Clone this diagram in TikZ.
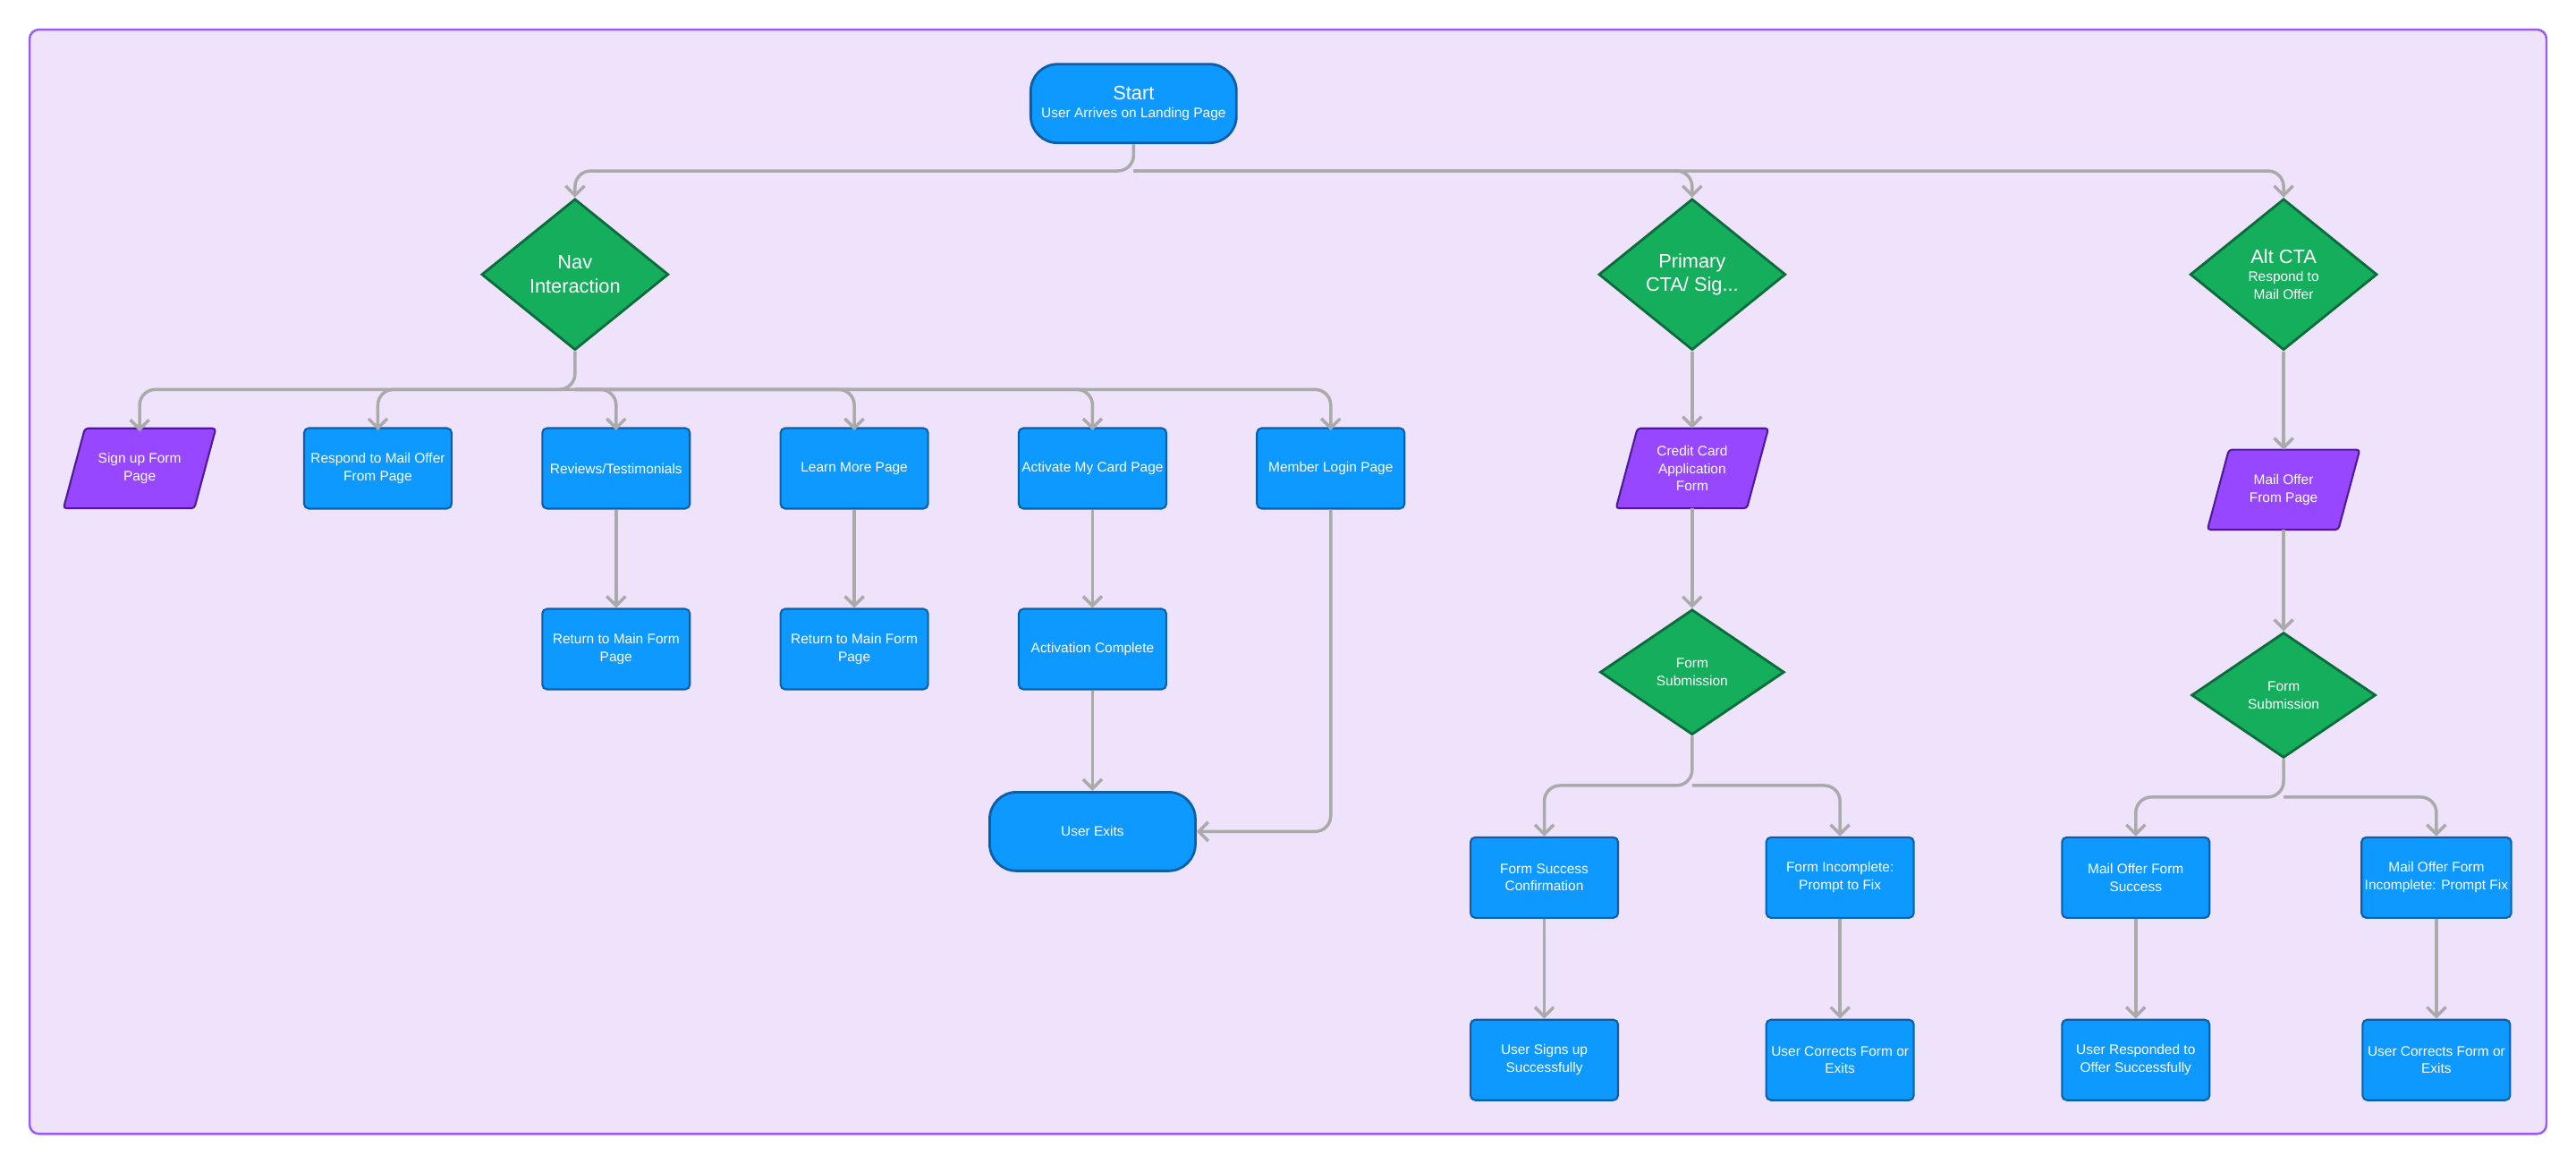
\documentclass[tikz,border=0pt]{standalone}
\usepackage{fontspec}
\setmainfont{Liberation Sans}
\usetikzlibrary{shapes.geometric,arrows.meta}
\definecolor{bgfill}{HTML}{EFE3FB}
\definecolor{bgline}{HTML}{9B59F6}
\definecolor{boxfill}{HTML}{0D99FF}
\definecolor{boxline}{HTML}{0A5FA8}
\definecolor{decfill}{HTML}{14AE5C}
\definecolor{decline}{HTML}{0B6B3A}
\definecolor{iofill}{HTML}{9747FF}
\definecolor{ioline}{HTML}{4E1A96}
\definecolor{arrline}{HTML}{AAAAAA}
\tikzset{
  txt/.style={text=white, align=center, font=\fontsize{4.4}{5.6}\selectfont},
  stepbox/.style={txt, draw=boxline, fill=boxfill, line width=0.6pt, rounded corners=1.5pt,
    minimum width=1.65cm, minimum height=0.9cm, inner sep=1pt},
  termbox/.style={txt, draw=boxline, fill=boxfill, line width=0.8pt, rounded corners=0.3cm,
    minimum width=2.3cm, minimum height=0.88cm},
  decide/.style={txt, diamond, draw=decline, fill=decfill, line width=0.8pt,
    minimum width=2.09cm, minimum height=1.69cm, inner sep=0pt},
  decsmall/.style={decide, minimum width=2.06cm, minimum height=1.4cm},
  iobox/.style={txt, minimum width=1.45cm, minimum height=0.88cm, inner sep=0pt},
  arr/.style={draw=arrline, line width=1pt, rounded corners=5pt, -{Straight Barb[length=3pt,width=6pt]}},
  big/.style={font=\fontsize{6.2}{7.6}\selectfont}
}
% parallelogram around a node
\newcommand{\ioshape}[1]{%
  \filldraw[fill=iofill, draw=ioline, line width=0.6pt, rounded corners=1pt]
    ([xshift=0.12cm]#1.north west) -- ([xshift=0.12cm]#1.north east)
    -- ([xshift=-0.12cm]#1.south east) -- ([xshift=-0.12cm]#1.south west) -- cycle;}
\begin{document}
\begin{tikzpicture}[x=0.018367cm, y=-0.018367cm]
\useasboundingbox (0,0) rectangle (1568,708.3);
\filldraw[fill=bgfill, draw=bgline, line width=0.7pt, rounded corners=3pt] (18,18) rectangle (1550,690);

% top
\node[termbox] (start) at (690,63) {{\fontsize{6.2}{7.6}\selectfont Start}\\User Arrives on Landing Page};
\node[decide, big] (nav) at (350,167) {Nav\\Interaction};
\node[decide, big] (prim) at (1030,167) {Primary\\CTA/ Sig...};
\node[decide] (alt) at (1390,167) {{\fontsize{6.2}{7.6}\selectfont Alt CTA}\\Respond to\\Mail Offer};
\coordinate (sj) at (690,104);
\draw[arr] (start.south) -- (sj) -| (nav.north);
\draw[arr] (sj) -| (prim.north);
\draw[arr] (sj) -| (alt.north);

% nav branch
\node[iobox] (signup) at (85,285) {};
\ioshape{signup}
\node[txt] at (signup) {Sign up Form\\Page};
\node[stepbox] (mail) at (230,285) {Respond to Mail Offer\\From Page};
\node[stepbox] (rev) at (375,285) {Reviews/Testimonials};
\node[stepbox] (learn) at (520,285) {Learn More Page};
\node[stepbox] (act) at (665,285) {Activate My Card Page};
\node[stepbox] (login) at (810,285) {Member Login Page};
\coordinate (nj) at (350,237);
\draw[arr] (nav.south) -- (nj) -| ([yshift=-1]signup.north);
\foreach \n in {mail,rev,learn,act,login}
  \draw[arr] (nj) -| ([yshift=-1]\n.north);

\node[stepbox] (revret) at (375,395) {Return to Main Form\\Page};
\node[stepbox] (learnret) at (520,395) {Return to Main Form\\Page};
\node[stepbox] (actdone) at (665,395) {Activation Complete};
\node[termbox] (exit) at (665,506) {User Exits};
\draw[arr] (rev) -- (revret);
\draw[arr] (learn) -- (learnret);
\draw[arr] (act) -- (actdone);
\draw[arr] (actdone) -- (exit);
\draw[arr] (login.south) |- (exit.east);

% primary branch
\node[iobox] (ccard) at (1030,285) {};
\ioshape{ccard}
\node[txt] at (ccard) {Credit Card\\Application\\Form};
\node[decsmall] (psub) at (1030,409) {Form\\Submission};
\node[stepbox] (psucc) at (940,534) {Form Success\\Confirmation};
\node[stepbox] (pinc) at (1120,534) {Form Incomplete:\\Prompt to Fix};
\node[stepbox] (psign) at (940,645) {User Signs up\\Successfully};
\node[stepbox] (pfix) at (1120,645) {User Corrects Form or\\Exits};
\draw[arr] (prim) -- (ccard);
\draw[arr] (ccard) -- (psub);
\coordinate (pj) at (1030,478);
\draw[arr] (psub.south) -- (pj) -| (psucc.north);
\draw[arr] (pj) -| (pinc.north);
\draw[arr] (psucc) -- (psign);
\draw[arr] (pinc) -- (pfix);

% alt branch
\node[iobox] (moffer) at (1390,298) {};
\ioshape{moffer}
\node[txt] at (moffer) {Mail Offer\\From Page};
\node[decsmall] (asub) at (1390,423) {Form\\Submission};
\node[stepbox] (asucc) at (1300,534) {Mail Offer Form\\Success};
\node[stepbox] (ainc) at (1483,534) {Mail Offer Form\\Incomplete: Prompt Fix};
\node[stepbox] (aresp) at (1300,645) {User Responded to\\Offer Successfully};
\node[stepbox] (afix) at (1483,645) {User Corrects Form or\\Exits};
\draw[arr] (alt) -- (moffer);
\draw[arr] (moffer) -- (asub);
\coordinate (aj) at (1390,485);
\draw[arr] (asub.south) -- (aj) -| (asucc.north);
\draw[arr] (aj) -| (ainc.north);
\draw[arr] (asucc) -- (aresp);
\draw[arr] (ainc) -- (afix);
\end{tikzpicture}
\end{document}
